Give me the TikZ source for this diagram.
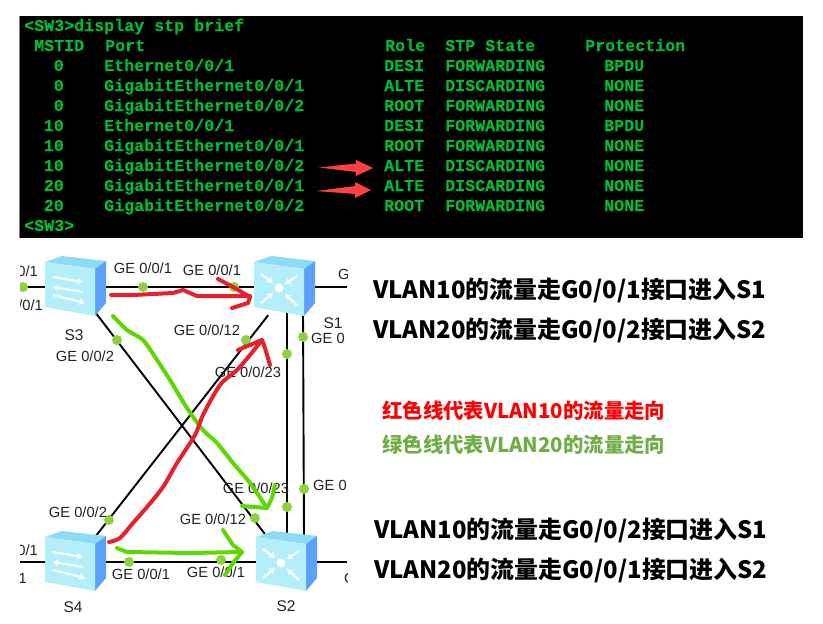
\documentclass[tikz,border=0pt]{standalone}
\usepackage{fontspec}
\setmainfont{Liberation Sans}
\setmonofont[FakeBold=0.2]{Liberation Mono}
\newfontfamily\cjk{Noto Sans CJK SC}
\usepackage{xcolor}
\usepackage{tikz}
\usetikzlibrary{arrows.meta,positioning,calc,backgrounds}
\definecolor{TermGreen}{HTML}{00BC34}
\definecolor{DotGreen}{HTML}{8CD23C}
\definecolor{PenRed}{HTML}{E8202C}
\definecolor{PenGreen}{HTML}{5CD800}
\definecolor{ArrowRed}{HTML}{FF4040}
\definecolor{SoftCyan}{HTML}{B4EEFA}
\definecolor{TopCyan}{HTML}{8CDCF6}
\definecolor{SideBlue}{HTML}{5CA0FA}
\definecolor{NoteGreen}{HTML}{70AD47}
\definecolor{LabelInk}{HTML}{222222}
\tikzset{
  % Terminal text
  TT/.style={inner sep=0pt,anchor=base west,text=TermGreen,
             font=\fontsize{16.67}{20}\selectfont\ttfamily\bfseries},
  % Switch body
  SW/.style={rectangle,minimum width=50pt,minimum height=56pt,inner sep=0pt},
  % Links and port dots
  lnk/.style={draw=black,line width=1.9pt},
  pt/.style={circle,fill=DotGreen,minimum size=10pt,inner sep=0pt},
  LB/.style={inner sep=0pt,text=LabelInk,font=\fontsize{14.7}{16}\selectfont},
  SN/.style={LB,font=\fontsize{15.5}{16}\selectfont},
  % Hand drawn pen
  pen/.style={line width=4pt,line cap=round,line join=round},
  pR/.style={pen,draw=PenRed},
  pG/.style={pen,draw=PenGreen},
  % Notes on the right
  NB/.style={inner sep=0pt,anchor=west,text=black,
             font=\fontsize{23.9}{28}\selectfont\cjk\bfseries},
  NS/.style={inner sep=0pt,anchor=west,
             font=\fontsize{20.4}{24}\selectfont\cjk\bfseries},
  wa/.style={draw=white,line width=2pt,-{Stealth[length=6pt,width=7pt]}}
}
% body of a switch, round its node
\newcommand{\swbody}[1]{
  \begin{scope}[shift={(#1)}]
    \fill[TopCyan] (-25,-25) -- (-8,-31) -- (36,-26) -- (25,-18) -- cycle;
    \fill[SideBlue] (25,-18) -- (36,-26) -- (36,16) -- (25,29) -- cycle;
    \fill[SoftCyan] (-25,-25) -- (25,-18) -- (25,29) -- (-25,20) -- cycle;
  \end{scope}
}
\newcommand{\swarrows}[1]{
  \begin{scope}[shift={(#1)}]
    \draw[wa] (-17,-10) -- (13,-5);
    \draw[wa] (13,5) -- (-17,0);
    \draw[wa] (-17,8) -- (15,16);
  \end{scope}
}
\newcommand{\rtarrows}[1]{
  \begin{scope}[shift={(#1)}]
    \fill[white] (0,1) circle (4.5);
    \draw[wa] (-18,-13) -- (-6,-4);
    \draw[wa] (18,-11) -- (6,-3);
    \draw[wa] (-18,16) -- (-6,6);
    \draw[wa] (18,18) -- (6,7);
  \end{scope}
}
\begin{document}
\begin{tikzpicture}[x=1pt,y=-1pt]
  \useasboundingbox (0,0) rectangle (823,624);
  % terminal
  \fill[black] (20,16) rectangle (803,238);
  \draw[gray,line width=1.2pt] (19.6,16) -- (19.6,238);
  \node[TT] (prompta) at (24,31) {<SW3>display stp brief};
  \node[TT] (hdm) at (34,51) {MSTID};
  \node[TT] (hdp) at (105,51) {Port};
  \node[TT] (hdr) at (385,51) {Role};
  \node[TT] (hds) at (445,51) {STP State};
  \node[TT] (hdv) at (585,51) {Protection};
  \foreach \i/\m/\p/\q/\r/\s/\v in {
      1/0/Ethernet/1/DESI/FORWARDING/BPDU,
      2/0/GigabitEthernet/1/ALTE/DISCARDING/NONE,
      3/0/GigabitEthernet/2/ROOT/FORWARDING/NONE,
      4/10/Ethernet/1/DESI/FORWARDING/BPDU,
      5/10/GigabitEthernet/1/ROOT/FORWARDING/NONE,
      6/10/GigabitEthernet/2/ALTE/DISCARDING/NONE,
      7/20/GigabitEthernet/1/ALTE/DISCARDING/NONE,
      8/20/GigabitEthernet/2/ROOT/FORWARDING/NONE}{
    \node[TT,anchor=base east] (m\i) at (64,51+20*\i) {\m};
    \node[TT] (p\i) at (104,51+20*\i) {\p0/0/\q};
    \node[TT] (r\i) at (384,51+20*\i) {\r};
    \node[TT] (s\i) at (445,51+20*\i) {\s};
    \node[TT] (v\i) at (604,51+20*\i) {\v};
  }
  \node[TT] (promptb) at (24,231) {<SW3>};
  % red marks on the terminal
  \fill[ArrowRed] (319,167.5) -- (356,163.5) -- (356,160) -- (373,168) -- (356,176) -- (356,172) -- cycle;
  \fill[ArrowRed] (316,191) -- (355,186) -- (355,182) -- (371,190) -- (355,198) -- (355,194) -- cycle;
  % network
  \begin{scope}
    \clip (20,250) rectangle (347,624);
    \node[SW] (S3) at (70,287) {};
    \node[SW] (S1) at (279,287) {};
    \node[SW] (S4) at (70,562) {};
    \node[SW] (S2) at (281,562) {};
    \coordinate (w3) at (20,287);
    \coordinate (e1) at (347,287);
    \coordinate (w4) at (20,562);
    \coordinate (e2) at (347,562);
    \begin{scope}[on background layer]
      \draw[lnk] (w3) -- (S3) -- (S1) -- (e1);
      \draw[lnk] (w4) -- (S4) -- (S2) -- (e2);
      \draw[lnk] (S3.-45) -- (S2.120);
      \draw[lnk] (S4.45) -- (S1.-111);
      \draw[lnk] ($(S1.south)+(8,-5)$) -- ($(S2.north)+(6,5)$);
      \draw[lnk] ($(S1.south)+(24,-5)$) -- ($(S2.north)+(23,5)$);
    \end{scope}
    \swbody{S3}\swarrows{S3}
    \swbody{S4}\swarrows{S4}
    \swbody{S1}\rtarrows{S1}
    \swbody{S2}\rtarrows{S2}
    % port dots
    \node[pt] (d1) at (23,287) {};
    \node[pt] (d2) at (143,287) {};
    \node[pt] (d3) at (234,287) {};
    \node[pt] (d4) at (117,340) {};
    \node[pt] (d5) at (246,340) {};
    \node[pt] (d6) at (287,354) {};
    \node[pt] (d7) at (303,337) {};
    \node[pt] (d8) at (109,520) {};
    \node[pt] (d9) at (255,518) {};
    \node[pt] (d10) at (287,507) {};
    \node[pt] (d11) at (304,489) {};
    \node[pt] (d12) at (129,562) {};
    \node[pt] (d13) at (221,560) {};
    % port labels
    \node[LB,anchor=east] (l1) at (38,271) {0/1};
    \node[LB,anchor=east] (l2) at (43,305) {/0/1};
    \node[LB] (l3) at (143,268) {GE 0/0/1};
    \node[LB] (l4) at (212,270) {GE 0/0/1};
    \node[LB,anchor=west] (l5) at (338,274) {G};
    \node[LB] (l6) at (85,356) {GE 0/0/2};
    \node[LB] (l7) at (207,330) {GE 0/0/12};
    \node[LB,anchor=west] (l8) at (311,338) {GE 0};
    \node[LB] (l9) at (248,372) {GE 0/0/23};
    \node[LB] (l10) at (256,488) {GE 0/0/23};
    \node[LB,anchor=west] (l11) at (313,485) {GE 0};
    \node[LB] (l12) at (78,512) {GE 0/0/2};
    \node[LB] (l13) at (213,519) {GE 0/0/12};
    \node[LB,anchor=east] (l14) at (38,550) {0/1};
    \node[LB,anchor=east] (l15) at (27,578) {1};
    \node[LB] (l16) at (141,574) {GE 0/0/1};
    \node[LB] (l17) at (216,572) {GE 0/0/1};
    \node[LB,anchor=west] (l18) at (344,578) {G};
    % switch names
    \node[SN] (n3) at (74,335) {S3};
    \node[SN] (n1) at (333,323) {S1};
    \node[SN] (n4) at (73,607) {S4};
    \node[SN] (n2) at (286,606) {S2};
    % pen strokes
    \draw[pR] (111,295) -- (133,295) -- (173,293) -- (183,290) -- (197,296) -- (217,296) -- (250,296);
    \draw[pR] (218,279) -- (233,287) -- (250,297) -- (248,303) -- (232,308);
    \draw[pG] plot[smooth] coordinates {(113,316) (127,330) (143,340) (155,357) (170,380) (187,408) (203,430) (217,443) (233,463) (250,483) (267,508)};
    \draw[pG] (242,506) -- (267,508) -- (272,498) -- (275,485);
    \draw[pR] plot[smooth] coordinates {(109,542) (120,538) (133,523) (147,507) (163,487) (177,463) (195,435) (203,415) (220,385) (237,370) (250,355) (262,340)};
    \draw[pR] (238,350) -- (262,340) -- (265,348) -- (270,365);
    \draw[pG] (117,548) -- (127,552) -- (190,553) -- (242,552);
    \draw[pG] (223,530) -- (233,545) -- (242,552) -- (233,563) -- (225,575);
  \end{scope}
  % notes
  \node[NB] (na) at (373,290) {VLAN10的流量走G0/0/1接口进入S1};
  \node[NB] (nb) at (373,330) {VLAN20的流量走G0/0/2接口进入S2};
  \node[NS,text=red] (nc) at (382,411) {红色线代表VLAN10的流量走向};
  \node[NS,text=NoteGreen] (nd) at (382,445) {绿色线代表VLAN20的流量走向};
  \node[NB] (ne) at (374,530) {VLAN10的流量走G0/0/2接口进入S1};
  \node[NB] (nf) at (374,570) {VLAN20的流量走G0/0/1接口进入S2};
\end{tikzpicture}
\end{document}
